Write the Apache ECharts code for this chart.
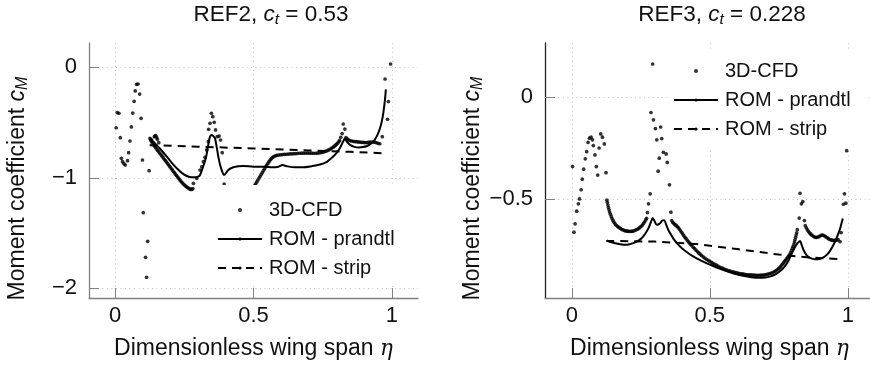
<!DOCTYPE html>
<html><head><meta charset="utf-8">
<script src="https://cdn.jsdelivr.net/npm/echarts@6/dist/echarts.min.js"></script>
<style>html,body{margin:0;padding:0;background:#fff}#c{width:870px;height:369px}</style>
</head><body><div id="c"></div>
<script>
// ---------------- data ----------------
const xTicks = [0, 0.5, 1];
const yTicksRef2 = [-2, -1, 0];
const yTicksRef3 = [-0.5, 0];
const seriesNames = ['3D-CFD', 'ROM - prandtl', 'ROM - strip'];

// REF2, c_t = 0.53
const ref2Cfd = [
  [0.004,-0.547],[0.008,-0.41],[0.014,-0.416],[0.019,-0.637],[0.023,-0.824],[0.027,-0.854],[0.032,-0.872],[0.037,-0.884],
  [0.045,-0.845],[0.049,-0.773],[0.054,-0.667],[0.059,-0.54],[0.064,-0.414],[0.069,-0.308],[0.073,-0.214],[0.078,-0.154],
  [0.083,-0.151],[0.089,-0.242],[0.094,-0.462],[0.099,-0.839],[0.102,-1.316],[0.110,-1.72],[0.114,-1.90],[0.118,-1.575],
  [0.123,-0.936],
  [0.126,-0.643],[0.129,-0.652],[0.132,-0.658],[0.138,-0.682],[0.142,-0.628],[0.144,-0.622],[0.147,-0.619],[0.150,-0.634],
  [0.153,-0.652],[0.158,-0.682],
  [0.130,-0.665],[0.134,-0.682],[0.138,-0.697],[0.142,-0.711],[0.146,-0.725],[0.150,-0.739],[0.154,-0.752],[0.158,-0.765],
  [0.162,-0.778],[0.166,-0.791],[0.170,-0.804],[0.174,-0.818],[0.178,-0.832],[0.182,-0.845],[0.186,-0.858],[0.190,-0.872],
  [0.194,-0.885],[0.198,-0.899],[0.202,-0.912],[0.206,-0.926],[0.210,-0.940],[0.214,-0.953],[0.218,-0.967],[0.222,-0.980],
  [0.226,-0.993],[0.230,-1.006],[0.234,-1.019],[0.238,-1.031],[0.242,-1.043],[0.246,-1.054],[0.250,-1.064],[0.254,-1.073],
  [0.258,-1.081],[0.262,-1.088],[0.266,-1.095],[0.270,-1.101],[0.274,-1.105],[0.278,-1.104],[0.281,-1.098],
  [0.283,-1.05],[0.295,-1.005],[0.307,-0.93],[0.313,-0.90],[0.319,-0.854],[0.325,-0.815],[0.331,-0.748],[0.337,-0.673],
  [0.338,-0.561],[0.343,-0.507],[0.348,-0.416],[0.353,-0.447],[0.358,-0.498],[0.363,-0.567],[0.369,-0.628],[0.376,-0.622],
  [0.381,-0.658],[0.387,-0.773],[0.394,-1.056],
  [0.40,-1.2],[0.42,-1.3],[0.45,-1.32],[0.48,-1.22],
  [0.496,-1.105],[0.500,-1.088],[0.504,-1.071],[0.508,-1.054],[0.512,-1.037],[0.516,-1.020],[0.520,-1.003],[0.524,-0.986],
  [0.528,-0.969],[0.532,-0.952],[0.536,-0.935],[0.540,-0.918],[0.544,-0.901],[0.548,-0.885],[0.552,-0.869],[0.556,-0.854],
  [0.560,-0.840],[0.564,-0.828],[0.568,-0.818],[0.573,-0.809],[0.578,-0.802],[0.584,-0.797],
  [0.590,-0.794],[0.597,-0.792],[0.604,-0.790],[0.611,-0.788],[0.618,-0.787],[0.625,-0.785],[0.632,-0.784],[0.639,-0.783],
  [0.646,-0.782],[0.653,-0.781],[0.660,-0.779],[0.667,-0.778],[0.674,-0.777],[0.681,-0.777],[0.688,-0.776],[0.695,-0.776],
  [0.702,-0.777],[0.709,-0.777],[0.716,-0.778],[0.723,-0.778],[0.730,-0.777],[0.737,-0.775],[0.744,-0.772],[0.750,-0.768],
  [0.756,-0.764],[0.762,-0.759],[0.768,-0.752],[0.773,-0.746],[0.778,-0.739],[0.783,-0.731],[0.788,-0.723],[0.792,-0.714],
  [0.796,-0.705],[0.800,-0.696],[0.804,-0.686],[0.808,-0.674],[0.811,-0.662],
  [0.815,-0.633],[0.820,-0.60],[0.824,-0.513],[0.830,-0.559],
  [0.834,-0.636],[0.838,-0.648],[0.843,-0.657],[0.848,-0.663],[0.854,-0.667],[0.860,-0.670],[0.866,-0.672],[0.872,-0.673],
  [0.878,-0.675],[0.884,-0.677],[0.890,-0.679],[0.896,-0.680],[0.902,-0.681],[0.908,-0.681],[0.914,-0.680],[0.920,-0.678],
  [0.926,-0.676],[0.932,-0.676],[0.938,-0.678],[0.944,-0.683],[0.950,-0.688],[0.956,-0.692],
  [0.965,-0.628],[0.984,-0.47],[0.987,-0.31],[0.975,-0.106],[0.995,0.03]
];
const ref2Prandtl = [
  [0.126,-0.66],[0.138,-0.673],[0.16,-0.73],[0.187,-0.809],[0.205,-0.865],[0.223,-0.914],[0.24,-0.953],[0.259,-0.984],
  [0.275,-0.995],[0.289,-0.996],[0.30,-0.99],[0.307,-0.975],[0.318,-0.90],[0.329,-0.809],[0.337,-0.70],[0.343,-0.628],
  [0.35,-0.613],[0.356,-0.625],[0.361,-0.643],[0.367,-0.72],[0.373,-0.809],[0.379,-0.88],[0.385,-0.929],[0.394,-0.975],
  [0.409,-0.929],[0.427,-0.905],[0.445,-0.895],[0.463,-0.893],[0.50,-0.90],[0.54,-0.90],[0.57,-0.905],[0.59,-0.90],
  [0.605,-0.885],[0.62,-0.895],[0.65,-0.905],[0.68,-0.905],[0.71,-0.895],[0.74,-0.88],[0.765,-0.855],[0.785,-0.815],
  [0.80,-0.775],[0.812,-0.73],[0.822,-0.68],[0.83,-0.645],[0.836,-0.67],[0.85,-0.705],[0.865,-0.72],[0.88,-0.725],
  [0.895,-0.722],[0.91,-0.712],[0.925,-0.69],[0.938,-0.655],[0.948,-0.61],[0.957,-0.55],[0.964,-0.48],[0.969,-0.41],
  [0.973,-0.33],[0.976,-0.26],[0.978,-0.20]
];
const ref2Strip = [[0.125,-0.705],[0.3,-0.718],[0.5,-0.735],[0.7,-0.752],[0.85,-0.765],[0.97,-0.778]];

// REF3, c_t = 0.228
const ref3Cfd = [
  [0.003,-0.34],[0.008,-0.662],[0.012,-0.621],[0.018,-0.559],[0.024,-0.523],[0.028,-0.499],[0.034,-0.454],[0.038,-0.402],
  [0.043,-0.353],[0.049,-0.302],[0.054,-0.267],[0.059,-0.222],[0.064,-0.201],[0.070,-0.196],[0.075,-0.209],[0.078,-0.237],
  [0.084,-0.283],[0.089,-0.34],[0.094,-0.382],[0.099,-0.249],[0.105,-0.18],[0.111,-0.196],[0.118,-0.229],[0.124,-0.37],
  [0.127,-0.505],[0.129,-0.517],[0.131,-0.529],[0.133,-0.541],[0.135,-0.552],[0.137,-0.563],[0.140,-0.574],[0.143,-0.585],
  [0.146,-0.595],[0.149,-0.604],[0.153,-0.613],[0.157,-0.621],[0.161,-0.628],[0.166,-0.634],[0.171,-0.639],[0.176,-0.644],
  [0.181,-0.648],[0.186,-0.651],[0.191,-0.654],[0.196,-0.656],[0.201,-0.657],[0.206,-0.658],[0.211,-0.658],[0.216,-0.658],
  [0.221,-0.657],[0.226,-0.655],[0.231,-0.652],[0.236,-0.649],[0.241,-0.645],[0.246,-0.640],[0.251,-0.634],[0.256,-0.627],
  [0.260,-0.619],[0.264,-0.611],[0.268,-0.602],[0.271,-0.594],
  [0.274,-0.566],[0.278,-0.523],[0.284,-0.474],[0.287,-0.075],[0.293,0.163],[0.296,-0.111],[0.303,-0.154],[0.308,-0.209],
  [0.313,-0.363],[0.317,-0.299],[0.322,-0.146],[0.326,-0.203],[0.332,-0.27],[0.342,-0.278],[0.346,-0.32],[0.354,-0.43],
  [0.359,-0.564],
  [0.362,-0.605],[0.366,-0.614],[0.370,-0.620],[0.374,-0.625],[0.378,-0.629],[0.382,-0.634],[0.386,-0.640],[0.390,-0.647],
  [0.394,-0.655],[0.398,-0.663],[0.402,-0.671],[0.406,-0.679],[0.410,-0.687],[0.414,-0.694],[0.418,-0.701],[0.422,-0.708],
  [0.426,-0.714],[0.430,-0.721],[0.435,-0.728],[0.440,-0.736],[0.445,-0.743],[0.450,-0.750],[0.455,-0.757],[0.460,-0.764],
  [0.465,-0.770],[0.470,-0.776],[0.476,-0.783],[0.482,-0.789],[0.488,-0.795],[0.494,-0.800],[0.500,-0.805],[0.506,-0.810],
  [0.512,-0.815],[0.518,-0.820],[0.524,-0.824],[0.530,-0.829],[0.536,-0.833],[0.542,-0.837],[0.548,-0.840],[0.554,-0.844],
  [0.560,-0.847],[0.566,-0.850],[0.572,-0.852],[0.578,-0.855],[0.584,-0.857],[0.590,-0.859],[0.596,-0.861],[0.602,-0.863],
  [0.608,-0.865],[0.614,-0.866],[0.620,-0.867],[0.626,-0.869],[0.632,-0.870],[0.638,-0.871],[0.644,-0.872],[0.650,-0.872],
  [0.656,-0.873],[0.662,-0.873],[0.668,-0.874],[0.674,-0.874],[0.680,-0.874],[0.686,-0.873],[0.692,-0.873],[0.698,-0.872],
  [0.704,-0.870],[0.710,-0.868],[0.716,-0.866],[0.722,-0.863],[0.728,-0.860],[0.734,-0.856],[0.739,-0.852],[0.744,-0.847],
  [0.749,-0.841],[0.754,-0.835],[0.758,-0.828],[0.762,-0.821],[0.766,-0.814],[0.770,-0.807],[0.774,-0.800],[0.778,-0.793],
  [0.782,-0.786],[0.786,-0.779],[0.790,-0.771],[0.793,-0.762],[0.796,-0.752],[0.799,-0.742],[0.802,-0.731],[0.805,-0.720],
  [0.807,-0.709],[0.809,-0.698],[0.811,-0.687],[0.813,-0.676],[0.815,-0.665],
  [0.817,-0.65],[0.824,-0.593],[0.827,-0.471],[0.832,-0.523],[0.837,-0.512],[0.843,-0.605],
  [0.846,-0.630],[0.850,-0.641],[0.854,-0.651],[0.858,-0.659],[0.862,-0.666],[0.866,-0.672],[0.870,-0.677],[0.875,-0.682],
  [0.880,-0.686],[0.885,-0.688],[0.890,-0.687],[0.895,-0.684],[0.900,-0.680],[0.905,-0.677],[0.910,-0.677],[0.915,-0.680],
  [0.920,-0.684],[0.925,-0.689],[0.930,-0.694],[0.935,-0.698],[0.940,-0.700],[0.945,-0.702],[0.950,-0.702],[0.955,-0.702],
  [0.960,-0.701],[0.965,-0.699],
  [0.972,-0.708],[0.976,-0.664],[0.984,-0.525],[0.993,-0.52],[0.988,-0.474],[0.996,-0.262]
];
const ref3Prandtl = [
  [0.127,-0.703],[0.14,-0.71],[0.157,-0.716],[0.175,-0.721],[0.193,-0.724],[0.21,-0.721],[0.223,-0.716],[0.24,-0.705],
  [0.254,-0.691],[0.266,-0.67],[0.278,-0.642],[0.286,-0.615],[0.293,-0.593],[0.30,-0.608],[0.308,-0.626],[0.32,-0.618],
  [0.328,-0.605],[0.335,-0.603],[0.342,-0.625],[0.35,-0.652],[0.36,-0.675],[0.37,-0.697],[0.385,-0.722],[0.40,-0.742],
  [0.42,-0.763],[0.44,-0.781],[0.46,-0.796],[0.48,-0.809],[0.50,-0.821],[0.53,-0.838],[0.56,-0.853],[0.59,-0.866],
  [0.62,-0.876],[0.65,-0.883],[0.68,-0.886],[0.70,-0.885],[0.72,-0.879],[0.74,-0.868],[0.755,-0.853],[0.77,-0.832],
  [0.785,-0.802],[0.797,-0.767],[0.808,-0.737],[0.818,-0.716],[0.827,-0.705],[0.833,-0.725],[0.84,-0.75],[0.848,-0.77],
  [0.857,-0.783],[0.87,-0.792],[0.882,-0.795],[0.895,-0.794],[0.906,-0.789],[0.918,-0.78],[0.93,-0.765],[0.942,-0.74],
  [0.954,-0.708],[0.964,-0.675],[0.972,-0.645],[0.978,-0.615],[0.982,-0.595]
];
const ref3Strip = [[0.125,-0.705],[0.3,-0.708],[0.45,-0.72],[0.6,-0.745],[0.75,-0.772],[0.85,-0.785],[0.975,-0.795]];

// ---------------- chart ----------------
const FONT = "'Liberation Sans', Arial, Helvetica, sans-serif";
const TXT = '#111';
const AX = '#808080';
const minus = v => String(v).replace('-', '\u2212');

function xAxisOpt(gi, min, max) {
  return {
    type: 'value', gridIndex: gi, min: min, max: max,
    name: '{n|Dimensionless wing span }{e|\u03b7}', nameLocation: 'middle', nameGap: 38,
    nameTextStyle: { rich: {
      n: { fontFamily: FONT, fontSize: 23, color: TXT, lineHeight: 26 },
      e: { fontFamily: "'DejaVu Serif', serif", fontStyle: 'italic', fontSize: 21.5, color: TXT, lineHeight: 26 }
    } },
    axisLine: { show: true, onZero: false, lineStyle: { color: AX, width: 1.3 } },
    axisTick: { show: true, inside: true, length: 10, customValues: xTicks, lineStyle: { color: AX, width: 1 } },
    axisLabel: { customValues: xTicks, formatter: minus, fontFamily: FONT, fontSize: 22, color: TXT, margin: 7 },
    splitLine: { show: true, lineStyle: { color: '#c4c4c4', type: [1, 3.5], width: 1 } }
  };
}
function yAxisOpt(gi, min, max, ticks, lineColor) {
  return {
    type: 'value', gridIndex: gi, min: min, max: max,
    name: '{n|Moment coefficient }{i|c}{s|M}', nameLocation: 'middle', nameRotate: 90, nameGap: 58,
    nameTextStyle: { padding: [0, 36, 0, 0], rich: {
      n: { fontFamily: FONT, fontSize: 23, color: TXT, lineHeight: 26 },
      i: { fontFamily: FONT, fontStyle: 'italic', fontSize: 23, color: TXT, lineHeight: 26 },
      s: { fontFamily: FONT, fontStyle: 'italic', fontSize: 16, color: TXT, lineHeight: 16, verticalAlign: 'bottom' }
    } },
    axisLine: { show: true, onZero: false, lineStyle: { color: lineColor, width: 1.3 } },
    axisTick: { show: true, inside: true, length: 10, customValues: ticks, lineStyle: { color: AX, width: 1 } },
    axisLabel: { customValues: ticks, formatter: minus, fontFamily: FONT, fontSize: 22, color: TXT, margin: 12 },
    splitLine: { show: true, lineStyle: { color: '#c4c4c4', type: [1, 3.5], width: 1 } }
  };
}
function titleOpt(ref, ct, cx) {
  return {
    text: '{n|' + ref + ', }{i|c}{s|t}{n| = ' + ct + '}',
    left: cx, top: 2, textAlign: 'center', padding: 0,
    textStyle: { fontWeight: 'normal', rich: {
      n: { fontFamily: FONT, fontWeight: 'normal', fontSize: 22.5, color: TXT, lineHeight: 26 },
      i: { fontFamily: FONT, fontWeight: 'normal', fontStyle: 'italic', fontSize: 22.5, color: TXT, lineHeight: 26 },
      s: { fontFamily: FONT, fontWeight: 'normal', fontStyle: 'italic', fontSize: 15.5, color: TXT, lineHeight: 15, verticalAlign: 'bottom' }
    } }
  };
}
function legendOpt(left, top, padding) {
  return {
    orient: 'vertical', left: left, top: top, itemWidth: 44, itemHeight: 4, itemGap: 9,
    padding: padding, backgroundColor: '#fff', selectedMode: false,
    data: [{ name: seriesNames[0], icon: 'circle' }, seriesNames[1], seriesNames[2]],
    textStyle: { fontFamily: FONT, fontSize: 20, color: TXT, lineHeight: 20, padding: [0, 0, 0, 2] }
  };
}
function seriesFor(gi, cfd, prandtl, strip) {
  return [
    { name: seriesNames[0], type: 'scatter', xAxisIndex: gi, yAxisIndex: gi, data: cfd,
      symbol: 'circle', symbolSize: 3.7, itemStyle: { color: '#000' }, z: 3 },
    { name: seriesNames[1], type: 'line', xAxisIndex: gi, yAxisIndex: gi, data: prandtl,
      symbol: 'none', smooth: 0.3, color: '#000', lineStyle: { color: '#000', width: 2 }, z: 2 },
    { name: seriesNames[2], type: 'line', xAxisIndex: gi, yAxisIndex: gi, data: strip,
      symbol: 'none', color: '#000', lineStyle: { color: '#000', width: 2, type: [8, 6] }, z: 2 }
  ];
}

const chart = echarts.init(document.getElementById('c'), null, { renderer: 'canvas' });
chart.setOption({
  animation: false,
  backgroundColor: '#fff',
  title: [titleOpt('REF2', '0.53', 271), titleOpt('REF3', '0.228', 722)],
  legend: [legendOpt(205, 185, [15, 6, 7, 12]), legendOpt(670, 50, [11, 15, 9, 3])],
  grid: [
    { left: 89, top: 43, width: 329, height: 255, outerBoundsMode: 'none', containLabel: false },
    { left: 545, top: 43, width: 329, height: 255, outerBoundsMode: 'none', containLabel: false }
  ],
  xAxis: [xAxisOpt(0, -0.094, 1.094), xAxisOpt(1, -0.097, 1.095)],
  yAxis: [yAxisOpt(0, -2.088, 0.22, yTicksRef2, AX), yAxisOpt(1, -0.985, 0.266, yTicksRef3, '#222')],
  series: [].concat(seriesFor(0, ref2Cfd, ref2Prandtl, ref2Strip), seriesFor(1, ref3Cfd, ref3Prandtl, ref3Strip))
});
</script></body></html>
